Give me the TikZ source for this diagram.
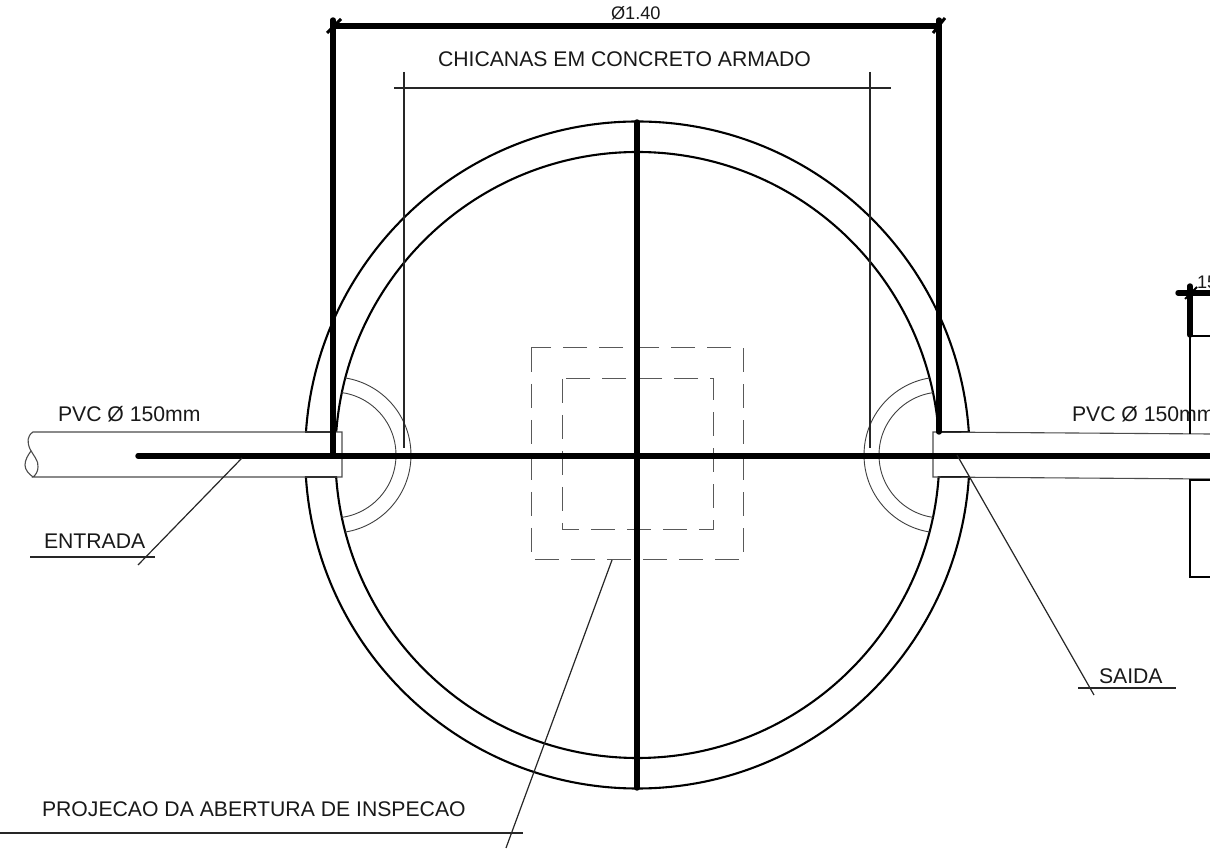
\documentclass[tikz,border=0pt]{standalone}
\usepackage{fontspec}
\setmainfont{Liberation Sans}
\tikzset{
  thickwall/.style={line width=2.7pt,line cap=round,black},
  ringline/.style={line width=1.05pt,black},
  thinline/.style={line width=0.6pt,black!85},
  arcline/.style={line width=0.45pt,black!75},
  pipeline/.style={line width=0.55pt,black!70},
  dashbox/.style={line width=0.5pt,black!65,dash pattern=on 12pt off 6pt},
  label/.style={anchor=base west,inner sep=0pt,outer sep=0pt,font=\fontsize{10.6}{12}\selectfont,text=black!90},
}
\begin{document}
\begin{tikzpicture}[x=0.5pt,y=-0.5pt]
\useasboundingbox (0,0) rectangle (1210,854);
\clip (0,0) rectangle (1210,854);
\fill[white] (0,0) rectangle (1210,854);

% ring, interrupted by the pipes
\begin{scope}
  \clip (0,0) rectangle (1210,432);
  \draw[ringline] (637.4,455) ellipse[x radius=332.2,y radius=333.5];
  \draw[ringline] (637.4,455) ellipse[x radius=302,y radius=303];
\end{scope}
\begin{scope}
  \clip (0,477) rectangle (1210,854);
  \draw[ringline] (637.4,455) ellipse[x radius=332.2,y radius=333.5];
  \draw[ringline] (637.4,455) ellipse[x radius=302,y radius=303];
\end{scope}
\draw[ringline] (305,432) -- (335,432);
\draw[ringline] (305,477) -- (335,477);
\draw[ringline] (939,432) -- (969,432);
\draw[ringline] (939,477) -- (969,477);

% chicane arcs
\begin{scope}
  \clip (637.4,455) ellipse[x radius=302,y radius=303];
  \draw[arcline] (333,455) circle[radius=78];
  \draw[arcline] (333,455) circle[radius=63];
  \draw[arcline] (942,455) circle[radius=78];
  \draw[arcline] (942,455) circle[radius=63];
\end{scope}

% inspection opening
\draw[dashbox] (531,348) rectangle (743,560);
\draw[dashbox] (562,379) rectangle (713,530);

% pipes
\draw[pipeline] (342,432) -- (33,432) .. controls (27,436) and (27,442) .. (30,449) .. controls (33,455) and (39,461) .. (38,467) .. controls (38,471) and (36,475) .. (33,477) -- (342,477) -- cycle;
\draw[pipeline] (33,477) .. controls (29,474) and (25,470) .. (25,465) .. controls (25,460) and (28,455) .. (31,451);
\draw[pipeline] (1210,434) -- (933,432) -- (933,477) -- (1210,479);

% chicane dimension
\draw[thinline] (394,88) -- (891,88);
\draw[thinline] (404,72) -- (404,448);
\draw[thinline] (870,72) -- (870,448);

% thick section
\draw[thickwall] (333,20) -- (333,455);
\draw[thickwall] (939,20) -- (939,432);
\draw[thickwall] (333,26) -- (939,26);
\draw[line width=1.5pt,black] (327,33) -- (341,19);
\draw[line width=1.5pt,black] (933,33) -- (945,18);
\draw[thickwall] (637,122) -- (637,788);
\draw[thickwall] (138,456) -- (1212,456);

% right-hand section
\draw[thickwall] (1190,286) -- (1190,335);
\draw[thickwall] (1178,293) -- (1212,293);
\draw[line width=1pt,black] (1185,299) -- (1197,287);
\draw[ringline,line width=0.75pt] (1190,335) -- (1190,434);
\draw[ringline,line width=0.75pt] (1190,336) -- (1212,336);
\draw[ringline,line width=0.75pt] (1212,480) -- (1190,480) -- (1190,577) -- (1212,577);

% leaders
\draw[thinline] (242,458) -- (138,565);
\draw[thinline] (30,557) -- (155,557);
\draw[thinline] (957,455) -- (1094,695);
\draw[thinline] (1078,688) -- (1176,688);
\draw[thinline] (612,560) -- (506,848);
\draw[thinline] (0,833) -- (523,833);

% labels
\node[label,font=\fontsize{9.1}{11}\selectfont] (dim) at (611,20) {Ø1.40};
\node[label] (chicanas) at (438,67) {CHICANAS EM CONCRETO ARMADO};
\node[label] (pvcl) at (58,421.5) {PVC Ø 150mm};
\node[label] (pvcr) at (1072,422) {PVC Ø 150mm};
\node[label] (entrada) at (44,549) {ENTRADA};
\node[label] (saida) at (1099,684) {SAIDA};
\node[label] (proj) at (42,816) {PROJECAO DA ABERTURA DE INSPECAO};
\node[label,font=\fontsize{9.1}{11}\selectfont] (small) at (1197,289) {15};
\end{tikzpicture}
\end{document}
